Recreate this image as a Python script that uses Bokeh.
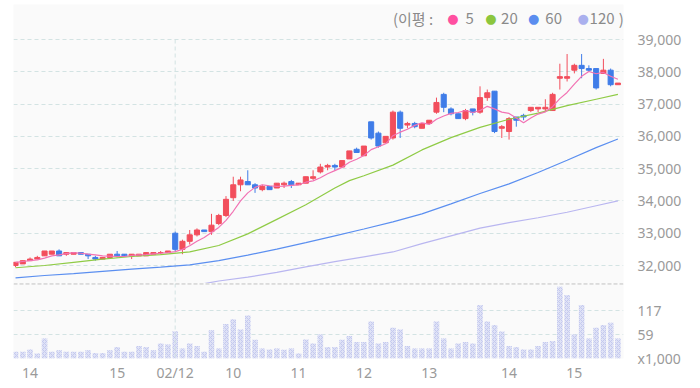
from bokeh.plotting import figure
from bokeh.layouts import column
from bokeh.models import (Range1d, FixedTicker, NumeralTickFormatter, Span, Label,
                          ColumnDataSource)
from bokeh.embed import file_html
from bokeh.resources import INLINE
import pandas as pd

# ---------------- data ----------------
opens = [32000, 32050, 32150, 32200, 32300, 32350, 32450, 32350, 32350, 32400,
         32350, 32250, 32200, 32250, 32350, 32350, 32300, 32300, 32300, 32350,
         32400, 32400, 33000, 32500, 32750, 32950, 33100, 33050, 33300, 33550,
         34100, 34500, 34600, 34500, 34350, 34450, 34400, 34500, 34600, 34500,
         34550, 34700, 34900, 35050, 35100, 35050, 35300, 35600, 35400, 36450,
         36100, 35800, 35950, 36750, 36350, 36400, 36250, 36400, 36750, 37300,
         36850, 36700, 36550, 36850, 36750, 37200, 37400, 36250, 36150, 36600,
         36650, 36800, 36850, 36850, 36800, 37800, 37800, 38050, 38200, 38100,
         38100, 37950, 38050, 37600]
highs = [32100, 32150, 32250, 32300, 32450, 32450, 32500, 32400, 32400, 32400,
         32350, 32300, 32250, 32350, 32450, 32350, 32350, 32350, 32400, 32400,
         32450, 32450, 33050, 32800, 33100, 33150, 33100, 33600, 33600, 34150,
         34750, 34750, 34950, 34550, 34500, 34450, 34550, 34600, 34650, 34550,
         34750, 34950, 35150, 35150, 35150, 35250, 35550, 35650, 35700, 36450,
         36150, 36000, 36800, 36800, 36450, 36450, 36400, 36500, 37200, 37350,
         36900, 36700, 36850, 36850, 37550, 37450, 37400, 36350, 36600, 36600,
         36700, 36900, 36900, 37150, 37350, 38250, 38550, 38250, 38550, 38200,
         38100, 38400, 38100, 37650]
lows = [31950, 32050, 32150, 32200, 32300, 32350, 32300, 32300, 32350, 32350,
        32200, 32150, 32200, 32250, 32250, 32300, 32200, 32300, 32300, 32350,
        32350, 32400, 32450, 32350, 32650, 32900, 33050, 32950, 33250, 33500,
        34000, 34300, 34500, 34250, 34300, 34350, 34400, 34400, 34400, 34500,
        34550, 34650, 34850, 34950, 34950, 35050, 35300, 35500, 35400, 35900,
        35650, 35800, 35900, 35950, 36250, 36250, 36250, 36400, 36700, 36750,
        36650, 36550, 36500, 36650, 36700, 37100, 36100, 35950, 35900, 36300,
        36500, 36750, 36750, 36750, 36800, 37450, 37700, 37950, 37800, 38000,
        37450, 37950, 37550, 37600]
closes = [32100, 32150, 32200, 32250, 32450, 32450, 32300, 32400, 32400, 32350,
          32300, 32200, 32250, 32350, 32300, 32300, 32350, 32350, 32400, 32400,
          32400, 32450, 32500, 32750, 32950, 33100, 33050, 33250, 33550, 34050,
          34500, 34650, 34500, 34400, 34450, 34350, 34550, 34550, 34500, 34550,
          34750, 34750, 35050, 35100, 35050, 35250, 35550, 35500, 35700, 35950,
          35700, 36000, 36750, 36250, 36400, 36300, 36400, 36500, 37050, 36900,
          36700, 36550, 36800, 36750, 37200, 37350, 36150, 36300, 36550, 36500,
          36600, 36900, 36900, 36900, 37300, 37850, 37850, 38200, 38100, 38050,
          37500, 38050, 37600, 37650]
volumes = [16, 16, 22, 12, 48, 16, 20, 16, 16, 16,
           20, 13, 13, 20, 28, 16, 16, 30, 28, 20,
           36, 34, 66, 24, 36, 30, 16, 68, 24, 83,
           95, 70, 104, 45, 24, 22, 24, 21, 24, 12,
           46, 36, 58, 28, 28, 45, 54, 40, 40, 89,
           36, 40, 74, 70, 30, 24, 24, 24, 89, 48,
           24, 36, 40, 36, 129, 89, 81, 65, 30, 28,
           22, 22, 30, 40, 42, 173, 153, 58, 129, 48,
           74, 81, 86, 48]

ma20_idx = [0, 4, 8, 12, 16, 20, 24, 28, 32, 36, 40, 44, 46, 48, 52, 56, 60,
            64, 68, 72, 76, 80, 83]
ma20_val = [31930, 32000, 32100, 32200, 32280, 32340, 32420, 32620, 32980, 33430,
            33880, 34400, 34630, 34780, 35110, 35580, 35960, 36280, 36530, 36720,
            36950, 37150, 37300]
ma60_idx = [0, 4, 8, 12, 16, 20, 24, 28, 32, 36, 40, 44, 48, 52, 56, 60, 64,
            68, 72, 76, 80, 83]
ma60_val = [31620, 31690, 31750, 31820, 31890, 31950, 32020, 32150, 32320, 32510,
            32710, 32920, 33130, 33350, 33600, 33910, 34230, 34530, 34880, 35260,
            35650, 35920]
ma120_idx = [26, 28, 32, 36, 40, 44, 48, 52, 56, 60, 64, 68, 72, 76, 80, 83]
ma120_val = [31440, 31520, 31640, 31790, 31960, 32120, 32270, 32420, 32680, 32920,
             33160, 33330, 33480, 33650, 33850, 34000]

price_ticks = [32000, 33000, 34000, 35000, 36000, 37000, 38000, 39000]
vol_ticks = [0, 59, 117]
vol_tick_labels = ["x1,000", "59", "117"]
tick_idx = [2, 14, 22, 30, 39, 48, 57, 68, 77]
tick_labels = ["14", "15", "02/12", "10", "11", "12", "13", "14", "15"]
day_break = 22

legend_title = "(이평 :"
legend_names = ["5", "20", "60", "120"]
legend_colors = ["#ff4fa0", "#8cc63e", "#5b8def", "#aab0ee"]

# ---------------- styling ----------------
RED = "#f24e5c"
BLUE = "#3f7ce8"
MA_COLORS = ["#f272b3", "#8fcb45", "#5b8ff0", "#b9b6f0"]
GRID = "#d3e3e3"
LABEL = "#9a9a9a"
BG = "#fafafa"
FONT = "Noto Sans"
Y_LO, Y_HI = 31443, 40084

idx = list(range(len(closes)))
colors = [RED if c >= o else BLUE for o, c in zip(opens, closes)]
src = ColumnDataSource(dict(
    idx=idx, open=opens, high=highs, low=lows, close=closes,
    top=[max(o, c) for o, c in zip(opens, closes)],
    bottom=[min(o, c) for o, c in zip(opens, closes)],
    color=colors, volume=volumes,
    ma5=pd.Series(closes).rolling(5, min_periods=1).mean().tolist(),
))

x_range = Range1d(-0.28, 83.77)
W = 700


def style_axis(a, standoff):
    a.axis_line_color = None
    a.major_tick_line_color = None
    a.minor_tick_line_color = None
    a.major_tick_out = 0
    a.minor_tick_out = 0
    a.major_label_standoff = standoff
    a.major_label_text_color = LABEL
    a.major_label_text_font = FONT
    a.major_label_text_font_size = "14px"


p1 = figure(width=W, height=283, x_range=x_range, y_range=Range1d(Y_LO, Y_HI),
            output_backend="svg", toolbar_location=None, x_axis_location=None,
            y_axis_location="right", min_border_left=13, min_border_right=77,
            min_border_top=4, min_border_bottom=0)
p1.background_fill_color = BG
p1.border_fill_color = "white"
p1.outline_line_color = None
p1.xgrid.visible = False
p1.ygrid.ticker = FixedTicker(ticks=price_ticks)
p1.ygrid.grid_line_color = GRID
p1.ygrid.grid_line_dash = "4 3"
ax = p1.yaxis[0]
ax.ticker = FixedTicker(ticks=price_ticks)
ax.formatter = NumeralTickFormatter(format="0,0")
style_axis(ax, 14)

# day break line
p1.segment(x0=[day_break], y0=[price_ticks[-1]], x1=[day_break], y1=[Y_LO],
           line_color=GRID, line_dash="4 3", line_width=1)

# candles
p1.segment(x0="idx", y0="low", x1="idx", y1="high", source=src,
           line_color="color", line_width=1)
p1.vbar(x="idx", width=0.7, top="top", bottom="bottom", source=src,
        fill_color="color", line_color="color", line_width=1)

# moving averages
p1.line(ma120_idx, ma120_val, line_color=MA_COLORS[3], line_width=1.2)
p1.line(ma60_idx, ma60_val, line_color=MA_COLORS[2], line_width=1.2)
p1.line(ma20_idx, ma20_val, line_color=MA_COLORS[1], line_width=1.2)
p1.line("idx", "ma5", source=src, line_color=MA_COLORS[0], line_width=1.2)

# legend
LY = 39640


def lab(x, text, color, size="15px", align="left", font="Noto Sans CJK KR"):
    p1.add_layout(Label(x=x, y=LY, text=text, text_color=color, text_font_size=size,
                        text_align=align, text_baseline="middle", text_font=font))


lab(52.0, legend_title, "#8a8a8a")
dot_x = [60.25, 65.5, 71.4, 78.2]
name_x = [62.0, 66.9, 73.0, 79.1]
for dx, nx, nm, col in zip(dot_x, name_x, legend_names, legend_colors):
    lab(dx, "●", col, size="13px", align="center", font="DejaVu Sans")
    lab(nx, nm, "#8a8a8a")
lab(83.1, ")", "#8a8a8a")

# ---------------- volume panel ----------------
p2 = figure(width=W, height=105, x_range=x_range, y_range=Range1d(0, 181),
            output_backend="svg", toolbar_location=None, y_axis_location="right",
            min_border_left=13, min_border_right=77, min_border_top=0,
            min_border_bottom=30)
p2.background_fill_color = BG
p2.border_fill_color = "white"
p2.outline_line_color = None
p2.xgrid.visible = False
p2.ygrid.ticker = FixedTicker(ticks=vol_ticks[1:])
p2.ygrid.grid_line_color = GRID
p2.ygrid.grid_line_dash = "4 3"

p2.add_layout(Span(location=day_break, dimension="height", line_color=GRID,
                   line_dash="4 3", line_width=1))
p2.add_layout(Span(location=180.3, dimension="width", line_color="#a0a0a0",
                   line_dash="4 2", line_width=1))

p2.vbar(x="idx", width=0.76, top="volume", bottom=0, source=src,
        fill_color="#dfe2f6", line_color=None,
        hatch_pattern="diagonal_cross", hatch_color="#c4c9ee",
        hatch_scale=4, hatch_weight=1)

vax = p2.yaxis[0]
vax.ticker = FixedTicker(ticks=vol_ticks)
vax.major_label_overrides = dict(zip(vol_ticks, vol_tick_labels))
style_axis(vax, 14)

xax = p2.xaxis[0]
xax.ticker = FixedTicker(ticks=tick_idx)
xax.major_label_overrides = dict(zip(tick_idx, tick_labels))
style_axis(xax, 4)

layout = column(p1, p2, spacing=0)
open("out.html", "w").write(file_html(layout, INLINE))
